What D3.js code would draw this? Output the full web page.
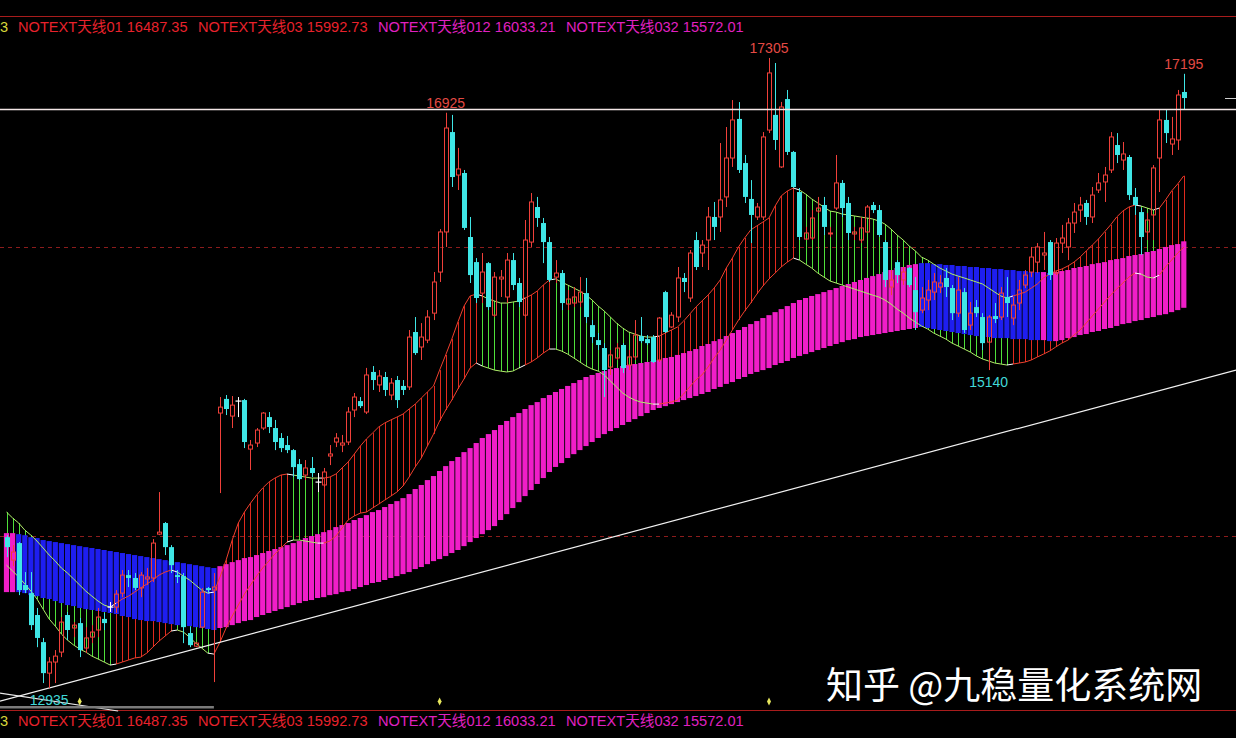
<!DOCTYPE html>
<html>
<head>
<meta charset="utf-8">
<script src="https://cdn.jsdelivr.net/npm/d3@7"></script>
<style>
  html, body { margin: 0; padding: 0; background: #000; overflow: hidden; }
  svg { display: block; }
</style>
</head>
<body>
<svg id="chart" width="1236" height="738"></svg>
<script>
// Daily candles: [open, high, low, close]
const ohlc = [
[13981,13995,13843,13912],[13822,13926,13780,13878],[13940,13947,13579,13614],[13649,13739,13593,13614],[13593,13739,13337,13371],
[13441,13490,13218,13282],[13253,13282,12969,13038],[13038,13149,12935,13115],[13115,13198,12969,13156],[13184,13427,13149,13392],
[13441,13462,13267,13337],[13351,13392,13288,13371],[13385,13421,13149,13198],[13212,13357,13177,13282],[13288,13371,13246,13323],
[13337,13490,13288,13427],[13414,13455,13337,13385],[13496,13531,13462,13496],[13496,13614,13455,13586],[13593,13753,13565,13718],
[13718,13753,13635,13698],[13698,13732,13614,13629],[13629,13739,13565,13718],[13691,13767,13649,13705],[13698,13968,13670,13940],
[14002,14294,13995,14016],[14079,14086,13857,13912],[13912,13926,13732,13787],[13718,13753,13663,13705],[13711,13732,13246,13357],
[13316,13357,13218,13232],[13225,13253,13218,13246],[13357,13628,13351,13600],[13628,13635,13593,13614],[13614,13732,12976,13635],
[14842,14953,14287,14883],[14940,14967,14828,14870],[14821,14960,14738,14897],[14925,14953,14814,14925],[14932,14940,14599,14641],
[14592,14655,14447,14620],[14634,14738,14606,14724],[14738,14849,14724,14842],[14814,14849,14703,14745],[14738,14794,14585,14641],
[14669,14703,14571,14599],[14620,14683,14564,14585],[14585,14592,14398,14467],[14488,14523,14377,14384],[14412,14516,14377,14461],
[14461,14537,14398,14426],[14363,14426,14294,14363],[14343,14461,14329,14433],[14544,14620,14481,14558],[14641,14703,14606,14669],
[14620,14690,14571,14634],[14641,14883,14620,14849],[14863,14981,14814,14953],[14925,14953,14877,14890],[14849,15155,14835,15106],
[15127,15168,15002,15071],[15037,15140,14988,15099],[15092,15127,14960,15002],[14967,15085,14932,15050],[15071,15099,14877,14932],
[15030,15071,14967,15002],[15023,15418,15002,15369],[15404,15508,15245,15258],[15300,15466,15210,15369],[15348,15556,15327,15508],
[15535,15820,15487,15751],[15820,16118,15751,16098],[16098,16925,15994,16819],[16791,16910,16410,16479],[16493,16681,16389,16535],
[16507,16528,16112,16126],[16063,16202,15744,15799],[15889,15917,15605,15640],[15674,15952,15605,15820],[15882,15889,15556,15577],
[15521,15820,15508,15785],[15772,15834,15647,15785],[15647,15952,15605,15903],[15903,15952,15695,15730],[15744,15779,15577,15612],
[15521,16181,15508,16042],[16028,16368,15994,16306],[16271,16341,16133,16195],[16160,16195,15882,16028],[16028,16063,15751,15765],
[15785,15903,15744,15813],[15813,15834,15556,15605],[15598,15695,15556,15633],[15605,15716,15577,15647],[15612,15785,15577,15681],
[15674,15779,15466,15508],[15452,15487,15327,15369],[15348,15397,15279,15314],[15293,15327,14953,15140],[15161,15279,15106,15245],
[15224,15327,15210,15293],[15314,15327,15120,15154],[15175,15279,15140,15231],[15231,15487,15210,15383],[15376,15508,15327,15341],
[15355,15383,15314,15327],[15369,15383,15189,15196],[15210,15508,15196,15501],[15681,15690,15397,15404],[15439,15542,15432,15521],
[15508,15855,15473,15779],[15779,15813,15681,15751],[15640,15973,15612,15952],[16042,16098,15834,15855],[15952,16042,15855,16007],
[16042,16271,15834,16202],[16202,16306,16042,16133],[16202,16715,16098,16320],[16341,16826,16271,16611],[16611,17013,16549,16875],
[16882,16999,16507,16528],[16576,16632,16299,16341],[16327,16458,16021,16216],[16202,16299,16181,16271],[16202,16791,16181,16757],
[16805,17305,16784,17201],[16910,17270,16667,16736],[16549,17000,16542,16965],[17020,17083,16632,16653],[16653,16660,16403,16410],
[16375,16403,16042,16063],[16049,16133,16042,16091],[16056,16250,16042,16195],[16243,16341,16229,16264],[16285,16341,16077,16133],
[16084,16133,16063,16091],[16264,16632,16250,16438],[16438,16458,16202,16264],[16299,16341,16042,16091],[16084,16133,16042,16098],
[16042,16202,16021,16126],[16098,16285,16091,16271],[16285,16306,16229,16250],[16250,16285,16063,16077],[16028,16042,15716,15765],
[15716,15834,15660,15765],[15889,15903,15744,15799],[15765,15855,15730,15820],[15848,15855,15716,15730],[15695,15785,15418,15542],
[15556,15716,15535,15640],[15626,15765,15556,15695],[15681,15813,15626,15751],[15716,15799,15674,15744],[15779,15848,15647,15716],
[15709,15730,15487,15535],[15535,15785,15508,15695],[15681,15709,15397,15418],[15452,15612,15418,15535],[15577,15626,15508,15535],
[15508,15535,15279,15327],[15334,15521,15140,15508],[15515,15605,15466,15494],[15508,15716,15487,15674],[15647,15785,15508,15605],
[15501,15647,15452,15591],[15605,15765,15556,15695],[15730,15834,15709,15799],[15820,15994,15785,15924],[15889,16021,15813,15994],
[15938,16098,15834,15952],[16028,16042,15765,15799],[15813,16056,15799,16021],[16021,16147,15952,16056],[15994,16195,15903,16160],
[16160,16299,16091,16236],[16250,16341,16167,16285],[16299,16320,16147,16202],[16202,16410,16160,16354],[16389,16507,16368,16438],
[16445,16549,16306,16493],[16528,16791,16507,16757],[16701,16784,16576,16632],[16597,16722,16528,16639],[16618,16632,16320,16354],
[16341,16403,16216,16285],[16236,16264,15938,16063],[16098,16229,16042,16181],[16216,16562,16042,16542],[16611,16944,16375,16875],
[16875,16944,16715,16784],[16708,16896,16632,16743],[16736,17083,16667,17048],[17069,17195,16944,17027]
];

// 天线01: upper edge of the thin ribbon
const line01 = [
14155,14114,14079,14030,13995,13954,13906,13857,13815,13767,
13732,13691,13649,13607,13572,13538,13510,13496,13524,13552,
13572,13600,13629,13656,13684,13718,13739,13753,13739,13711,
13684,13649,13614,13593,13600,13705,13822,13961,14079,14155,
14217,14273,14322,14363,14391,14412,14419,14412,14405,14398,
14391,14391,14391,14398,14419,14461,14502,14557,14613,14662,
14703,14745,14773,14794,14814,14835,14870,14904,14946,14988,
15030,15140,15245,15355,15473,15584,15654,15667,15654,15633,
15619,15605,15605,15612,15619,15640,15660,15688,15730,15765,
15772,15751,15730,15709,15688,15660,15626,15584,15549,15508,
15466,15432,15404,15390,15376,15369,15369,15376,15397,15418,
15439,15480,15528,15577,15619,15660,15709,15765,15848,15917,
15994,16056,16112,16140,16167,16195,16278,16348,16382,16403,
16389,16361,16327,16299,16271,16243,16236,16222,16216,16209,
16202,16195,16188,16174,16153,16118,16077,16042,16000,15966,
15924,15903,15875,15848,15827,15806,15792,15779,15765,15751,
15737,15709,15681,15654,15640,15654,15667,15681,15709,15737,
15779,15806,15827,15841,15862,15889,15924,15966,16007,16049,
16098,16147,16202,16243,16271,16285,16278,16264,16250,16264,
16320,16382,16431,16487.35
];

// 天线03: lower edge of the thin ribbon
const line03 = [
13787,13746,13705,13656,13607,13552,13482,13413,13364,13309,
13267,13233,13205,13184,13156,13136,13115,13094,13101,13115,
13129,13143,13149,13177,13219,13260,13295,13330,13337,13323,
13288,13246,13212,13177,13170,13253,13351,13434,13510,13586,
13649,13711,13767,13815,13864,13906,13947,13961,13961,13954,
13947,13940,13940,13954,13989,14044,14100,14128,14148,14155,
14183,14210,14238,14266,14294,14336,14398,14468,14530,14613,
14696,14787,14863,14932,15009,15078,15154,15189,15168,15154,
15140,15133,15127,15133,15154,15175,15196,15224,15258,15286,
15286,15272,15251,15224,15196,15168,15147,15133,15106,15064,
15023,14981,14953,14932,14918,14911,14904,14904,14911,14918,
14932,14974,15023,15071,15106,15161,15224,15279,15348,15418,
15487,15549,15605,15667,15723,15772,15813,15855,15889,15917,
15903,15875,15848,15813,15785,15758,15744,15730,15716,15702,
15688,15674,15660,15647,15626,15598,15563,15535,15501,15473,
15446,15425,15397,15376,15355,15327,15307,15286,15265,15238,
15217,15203,15189,15182,15175,15182,15189,15196,15210,15231,
15251,15272,15300,15327,15348,15383,15418,15466,15515,15563,
15612,15660,15702,15744,15785,15813,15806,15785,15779,15799,
15855,15903,15952,15992.73
];

// 天线012: upper edge of the wide bar band
const line012 = [
14009,14009,14002,13995,13981,13975,13961,13954,13947,13940,
13933,13926,13919,13912,13906,13899,13892,13885,13878,13871,
13864,13857,13850,13843,13836,13829,13822,13815,13808,13801,
13794,13787,13780,13773,13767,13780,13794,13808,13822,13836,
13843,13857,13871,13885,13899,13912,13926,13940,13954,13975,
13989,14002,14016,14030,14051,14065,14079,14100,14114,14134,
14155,14169,14190,14211,14231,14252,14280,14315,14343,14377,
14405,14440,14474,14509,14537,14571,14599,14634,14669,14696,
14724,14759,14787,14814,14842,14870,14897,14918,14946,14967,
14988,15009,15030,15050,15071,15092,15106,15120,15133,15147,
15154,15168,15175,15182,15189,15196,15203,15210,15224,15231,
15245,15258,15272,15286,15307,15321,15341,15355,15376,15397,
15418,15439,15459,15480,15501,15521,15542,15563,15584,15605,
15626,15640,15654,15667,15681,15695,15709,15723,15737,15751,
15765,15779,15792,15806,15820,15834,15848,15855,15869,15875,
15882,15882,15875,15875,15869,15869,15862,15862,15855,15855,
15848,15848,15841,15841,15834,15834,15827,15827,15820,15820,
15820,15813,15820,15827,15834,15848,15855,15862,15875,15882,
15889,15903,15910,15917,15931,15938,15945,15959,15966,15980,
15994,16007,16014,16033.21
];

// 天线032: lower edge of the wide bar band
const line032 = [
13600,13600,13600,13593,13579,13572,13559,13552,13538,13524,
13510,13503,13490,13482,13476,13469,13462,13455,13448,13434,
13427,13413,13406,13399,13399,13392,13385,13378,13371,13371,
13364,13357,13351,13344,13337,13351,13357,13371,13385,13399,
13406,13427,13441,13455,13469,13482,13496,13510,13524,13538,
13545,13559,13565,13579,13586,13600,13607,13621,13635,13649,
13663,13670,13684,13698,13711,13725,13739,13760,13774,13794,
13815,13829,13850,13871,13892,13919,13947,13975,14002,14030,
14058,14100,14141,14183,14224,14266,14308,14350,14391,14433,
14468,14495,14530,14557,14585,14613,14641,14669,14696,14717,
14738,14759,14780,14800,14821,14842,14863,14877,14890,14904,
14918,14932,14946,14960,14974,14988,15009,15023,15044,15057,
15078,15092,15113,15127,15140,15154,15175,15189,15203,15224,
15238,15251,15265,15279,15293,15307,15321,15334,15348,15355,
15369,15376,15383,15390,15397,15404,15411,15418,15425,15432,
15439,15432,15425,15418,15411,15404,15397,15390,15383,15376,
15369,15369,15362,15362,15362,15355,15355,15355,15348,15348,
15348,15341,15341,15348,15362,15369,15383,15390,15404,15411,
15425,15432,15446,15459,15466,15480,15487,15501,15508,15521,
15528,15542,15556,15572.01
];

// Trend state runs [length, state] for the thin ribbon and the wide bars
const ribbonRuns = [[18,'down'],[10,'up'],[6,'down'],[13,'up'],[5,'down'],[26,'up'],[7,'down'],
                    [5,'up'],[17,'down'],[23,'up'],[35,'down'],[21,'up'],[3,'down'],[5,'up']];
const barRuns = [[2,'up'],[33,'down'],[115,'up'],[20,'down'],[1,'up'],[1,'down'],[22,'up']];

// Annotated extremes: candle index and which end of the candle is labelled
const extremes = [[72,'high'],[125,'high'],[193,'high'],[161,'low'],[7,'low']];

// Reference price levels
const resistanceLevel = 16950;
const dashedLevels = [15992.73, 13990];
const trendAnchors = [[7, 12935], [193, 15043]];
const fallAnchors = [[0, 12893], [18, 12777]];
const timeMarks = [12, 71, 125];

// Legend entries (name, series)
const legendNames = ['NOTEXT天线01', 'NOTEXT天线03', 'NOTEXT天线012', 'NOTEXT天线032'];
const legendSeries = [line01, line03, line012, line032];

// ---------------------------------------------------------------------------
const W = 1236, H = 738;
const n = ohlc.length;
const svg = d3.select('#chart');

const x = d3.scaleLinear().domain([0, n - 1]).range([6.5, 1183.8]);
const y = d3.scaleLinear().domain([12588, 17707]).range([H, 0]);
const px = i => Math.round(x(i)) + 0.5;

const expand = runs => runs.flatMap(([len, s]) => Array(len).fill(s));
const ribbonState = expand(ribbonRuns);
const barState = expand(barRuns);

const COL = {
  candleUp: '#f0403a', candleDown: '#3fe6e6', doji: '#ffffff',
  ribbonUp: '#e02a1e', ribbonDown: '#4fe03a',
  lineUp: '#f0402e', lineDown: '#b0ee6a',
  barUp: '#f01ec8', barDown: '#1e1ef0',
  border: '#a81c1c', dashed: '#8c1c1c',
  legendRed: '#e8222c', legendMag: '#e020c0'
};

svg.append('rect').attr('width', W).attr('height', H).attr('fill', '#000');

// panel borders
svg.append('line').attr('x1', 0).attr('x2', W).attr('y1', 16.5).attr('y2', 16.5)
  .attr('stroke', COL.border).attr('stroke-width', 1);
svg.append('line').attr('x1', 0).attr('x2', W).attr('y1', 710.5).attr('y2', 710.5)
  .attr('stroke', COL.border).attr('stroke-width', 1);

// dashed reference levels
svg.append('g').selectAll('line').data(dashedLevels).join('line')
  .attr('x1', 0).attr('x2', W)
  .attr('y1', d => Math.round(y(d)) + 0.5).attr('y2', d => Math.round(y(d)) + 0.5)
  .attr('stroke', COL.dashed).attr('stroke-dasharray', '4,4');

// thin ribbon: one vertical stroke per candle between 天线01 and 天线03
svg.append('g').selectAll('line').data(d3.range(n)).join('line')
  .attr('x1', px).attr('x2', px)
  .attr('y1', i => y(line01[i])).attr('y2', i => y(line03[i]))
  .attr('stroke', i => ribbonState[i] === 'up' ? COL.ribbonUp : COL.ribbonDown)
  .attr('stroke-width', 1);

// wide bars between 天线012 and 天线032
svg.append('g').selectAll('rect').data(d3.range(n)).join('rect')
  .attr('x', i => x(i) - 2.6)
  .attr('width', 5.2)
  .attr('y', i => y(Math.max(line012[i], line032[i])))
  .attr('height', i => Math.abs(y(line012[i]) - y(line032[i])))
  .attr('fill', i => barState[i] === 'up' ? COL.barUp : COL.barDown);

// ribbon edge lines, coloured by trend state, white where the state turns
function edgeLine(values) {
  const g = svg.append('g').attr('fill', 'none').attr('stroke-width', 1);
  for (let i = 1; i < n; i++) {
    const turn = ribbonState[i] !== ribbonState[i - 1];
    g.append('line')
      .attr('x1', x(i - 1)).attr('y1', y(values[i - 1]))
      .attr('x2', x(i)).attr('y2', y(values[i]))
      .attr('stroke', turn ? '#ffffff' : (ribbonState[i] === 'up' ? COL.lineUp : COL.lineDown));
  }
}
edgeLine(line01);
edgeLine(line03);

// straight lines through two anchors, extended across the panel
function extendedLine(anchors, x0, x1, color) {
  const [[ia, pa], [ib, pb]] = anchors;
  const ax = x(ia), ay = y(pa), bx = x(ib), by = y(pb);
  const k = (by - ay) / (bx - ax);
  svg.append('line')
    .attr('x1', x0).attr('y1', ay + k * (x0 - ax))
    .attr('x2', x1).attr('y2', ay + k * (x1 - ax))
    .attr('stroke', color).attr('stroke-width', 1.2);
}
extendedLine(trendAnchors, 0, W, '#f2f2f2');
extendedLine(fallAnchors, 0, x(18.3), '#e8e8e8');

// scroll strip under the first bars
svg.append('line').attr('x1', 0).attr('x2', x(34)).attr('y1', 707.3).attr('y2', 707.3)
  .attr('stroke', '#7a7a7a').attr('stroke-width', 2.6);

// candles
const cg = svg.append('g');
ohlc.forEach(([o, h, l, c], i) => {
  const cx = px(i);
  const top = y(Math.max(o, c)), bot = y(Math.min(o, c));
  if (c > o) {
    cg.append('line').attr('x1', cx).attr('x2', cx).attr('y1', y(h)).attr('y2', top)
      .attr('stroke', COL.candleUp);
    cg.append('line').attr('x1', cx).attr('x2', cx).attr('y1', bot).attr('y2', y(l))
      .attr('stroke', COL.candleUp);
    cg.append('rect').attr('x', cx - 2).attr('y', top).attr('width', 4)
      .attr('height', Math.max(bot - top, 1))
      .attr('fill', 'none').attr('stroke', COL.candleUp).attr('stroke-width', 1);
  } else if (c < o) {
    cg.append('line').attr('x1', cx).attr('x2', cx).attr('y1', y(h)).attr('y2', y(l))
      .attr('stroke', COL.candleDown);
    cg.append('rect').attr('x', cx - 2.5).attr('y', top).attr('width', 5)
      .attr('height', Math.max(bot - top, 1.5)).attr('fill', COL.candleDown);
  } else {
    cg.append('line').attr('x1', cx).attr('x2', cx).attr('y1', y(h)).attr('y2', y(l))
      .attr('stroke', COL.doji);
    cg.append('line').attr('x1', cx - 3).attr('x2', cx + 3).attr('y1', top).attr('y2', top)
      .attr('stroke', COL.doji).attr('stroke-width', 1.2);
  }
});

// resistance line and last-price tick
svg.append('line').attr('x1', 0).attr('x2', W)
  .attr('y1', Math.round(y(resistanceLevel)) + 0.5).attr('y2', Math.round(y(resistanceLevel)) + 0.5)
  .attr('stroke', '#f2e6e6').attr('stroke-width', 1.3);
const lastClose = ohlc[n - 1][3];
svg.append('line').attr('x1', 1225).attr('x2', W)
  .attr('y1', Math.round(y(lastClose)) + 0.5).attr('y2', Math.round(y(lastClose)) + 0.5)
  .attr('stroke', '#cfcfcf');

// extreme labels
svg.append('g').selectAll('text').data(extremes).join('text')
  .attr('x', d => x(d[0]))
  .attr('y', d => d[1] === 'high' ? y(ohlc[d[0]][1]) - 5 : y(ohlc[d[0]][2]) + 17)
  .attr('text-anchor', 'middle')
  .attr('font-family', "'Liberation Sans', Arial, sans-serif")
  .attr('font-size', 14)
  .attr('fill', d => d[1] === 'high' ? '#e44a44' : '#40d8d8')
  .text(d => d[1] === 'high' ? ohlc[d[0]][1] : ohlc[d[0]][2]);

// time marks on the bottom edge
svg.append('g').selectAll('path').data(timeMarks).join('path')
  .attr('d', i => { const cx = x(i); return `M${cx},697.5 L${cx + 2},701.5 L${cx},705.5 L${cx - 2},701.5 Z`; })
  .attr('fill', '#e6e65c');

// legends (top and bottom)
const legendX = [18, 198, 378, 566];
const legendColor = [COL.legendRed, COL.legendRed, COL.legendMag, COL.legendMag];
[32, 726].forEach(baseline => {
  const g = svg.append('g')
    .attr('font-family', "'Liberation Sans', 'Noto Sans CJK SC', sans-serif")
    .attr('font-size', 14.6);
  g.append('text').attr('x', 0).attr('y', baseline).attr('fill', '#d8d83a').text('3');
  legendNames.forEach((name, k) => {
    const series = legendSeries[k];
    g.append('text').attr('x', legendX[k]).attr('y', baseline)
      .attr('fill', legendColor[k])
      .text(`${name} ${series[series.length - 1].toFixed(2)}`);
  });
});

// watermark
svg.append('text')
  .attr('x', 826).attr('y', 699)
  .attr('font-family', "'Noto Sans CJK SC', sans-serif")
  .attr('font-size', 37)
  .attr('fill', '#ffffff')
  .text('知乎 @九稳量化系统网');
</script>
</body>
</html>
